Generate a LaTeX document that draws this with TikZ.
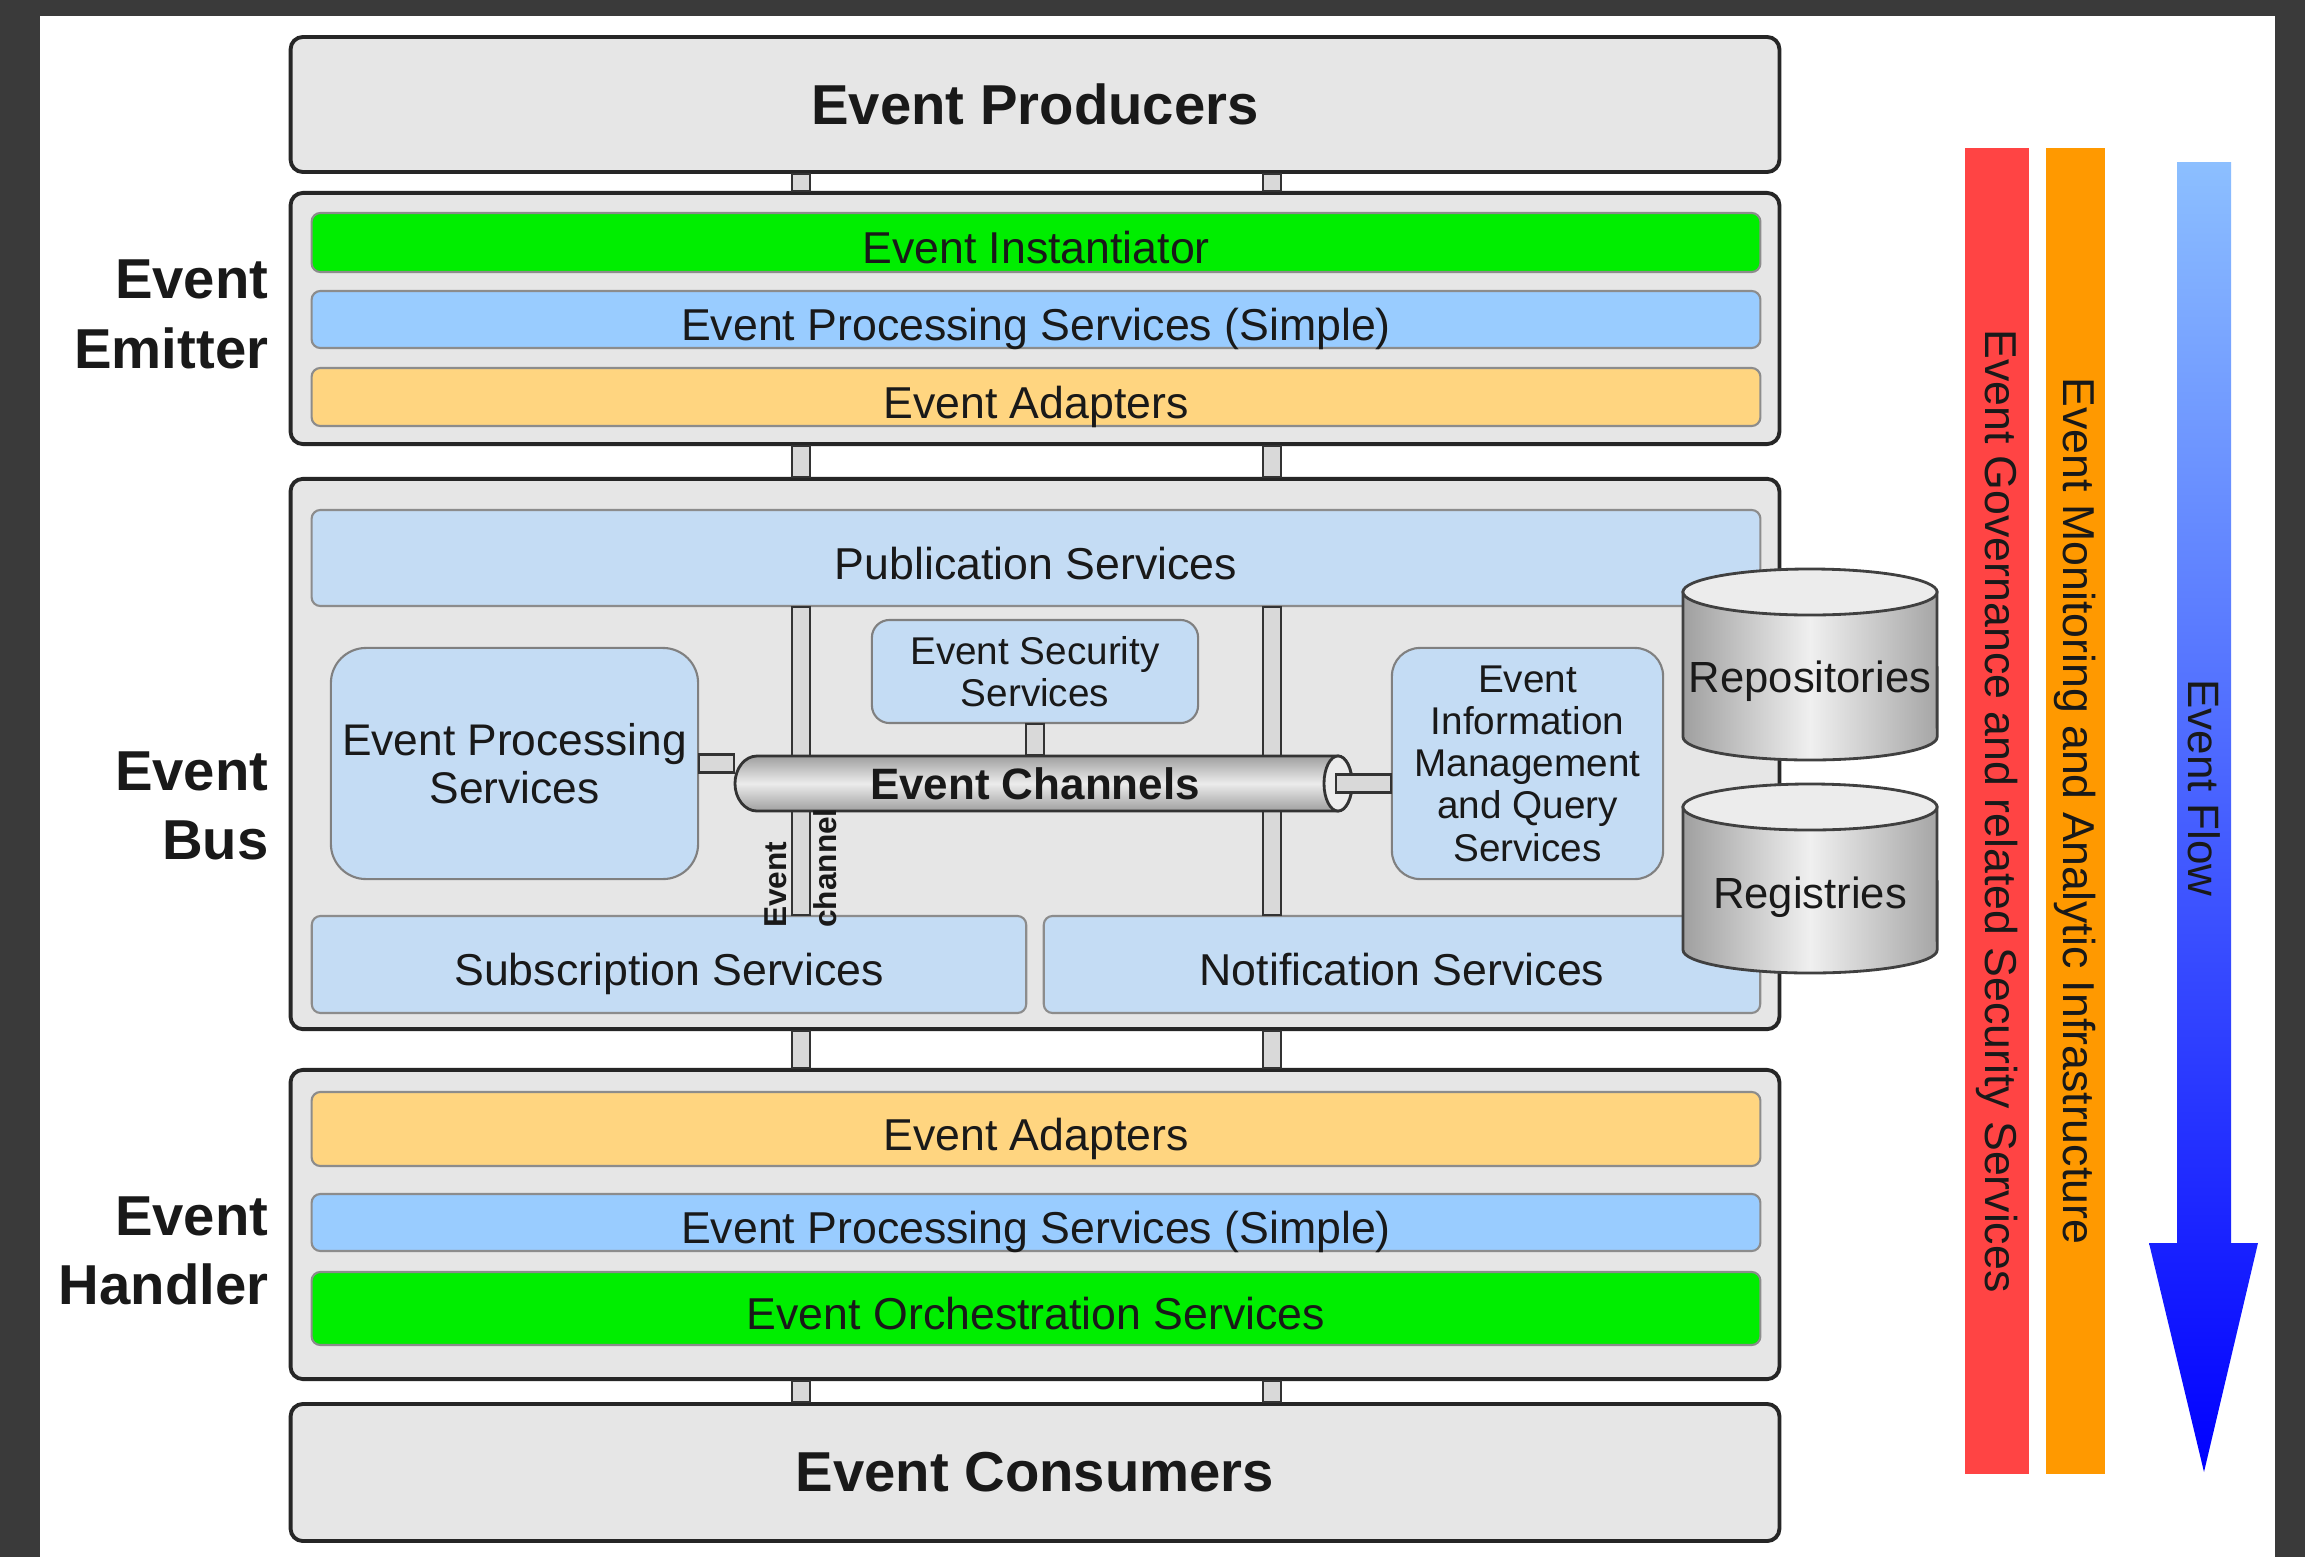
\documentclass[tikz,border=0pt]{standalone}
\usepackage{fontspec}
\setmainfont{Liberation Sans}
\usetikzlibrary{arrows,calc}

\definecolor{framegray}{HTML}{3A3A3A}
\definecolor{layergray}{HTML}{E6E6E6}
\definecolor{instgreen}{HTML}{00EE00}
\definecolor{procblue}{HTML}{99CCFF}
\definecolor{adaptorange}{HTML}{FFD580}
\definecolor{busblue}{HTML}{C4DCF4}
\definecolor{govred}{HTML}{FF4444}
\definecolor{monorange}{HTML}{FF9900}
\definecolor{flowlight}{HTML}{8CBFFF}
\definecolor{flowdark}{HTML}{0000FF}

\tikzset{
  layerbox/.style={draw=black!85, line width=1.1pt, fill=layergray, rounded corners=3.5pt,
    minimum width=14.88cm, inner sep=0pt, text=black!90},
  barbox/.style={draw=black!45, line width=0.6pt, rounded corners=2.5pt, minimum width=14.48cm,
    inner sep=0pt, text=black!90, text height=12pt, text depth=0pt, font=\fontsize{12.7}{14}\selectfont},
  innerbox/.style={draw=black!50, line width=0.6pt, fill=busblue, inner sep=0pt, align=center, text=black!90},
  pipebox/.style={draw=black!80, line width=0.7pt, fill=gray!30},
  heading/.style={font=\fontsize{16}{19.8}\selectfont\bfseries, text=black!90},
  sidelabel/.style={heading, anchor=east, align=right, inner sep=0pt},
  stripe/.style={rotate=-90, minimum width=13.26cm, inner sep=0pt, text=black!90,
    font=\fontsize{12.7}{14}\selectfont}
}

\begin{document}
\begin{tikzpicture}[x=0.01cm,y=-0.01cm]
\useasboundingbox (0,0) rectangle (2305,1557);
\fill[framegray] (0,0) rectangle (2305,1557);
\fill[white] (40,16) rectangle (2275,1557);

\node[layerbox, heading, minimum height=1.35cm] (producers) at (1035,104.5) {Event Producers};
\node[layerbox, minimum height=2.51cm] (emitter) at (1035,318.5) {};
\node[layerbox, minimum height=5.5cm] (bus) at (1035,754) {};
\node[layerbox, minimum height=3.09cm] (handler) at (1035,1224.5) {};
\node[layerbox, heading, minimum height=1.37cm] (consumers) at (1035,1472.5) {Event Consumers};

\coordinate (lp) at (801,0);
\coordinate (rp) at (1272,0);
\foreach \a/\b in {producers/emitter,emitter/bus,bus/handler,handler/consumers}
  \foreach \p in {lp,rp}
    \draw[pipebox] ([xshift=-0.09cm]\p |- \a.south) rectangle ([xshift=0.09cm]\p |- \b.north);

\node[sidelabel] (emitterlabel) at (269,314.5) {Event\\Emitter};
\node[sidelabel] (buslabel) at (269,806) {Event\\Bus};
\node[sidelabel] (handlerlabel) at (269,1251) {Event\\Handler};

\node[barbox, fill=instgreen, minimum height=0.59cm] (instantiator) at (1036,242.5) {Event Instantiator};
\node[barbox, fill=procblue, minimum height=0.57cm] (emitproc) at (1036,319.5) {Event Processing Services (Simple)};
\node[barbox, fill=adaptorange, minimum height=0.58cm] (emitadapt) at (1036,397) {Event Adapters};

\node[barbox, fill=adaptorange, minimum height=0.74cm] (handadapt) at (1036,1129) {Event Adapters};
\node[barbox, fill=procblue, minimum height=0.57cm] (handproc) at (1036,1222.5) {Event Processing Services (Simple)};
\node[barbox, fill=instgreen, minimum height=0.73cm] (orchestration) at (1036,1308.5) {Event Orchestration Services};

\node[barbox, fill=busblue, minimum height=0.96cm] (publication) at (1036,558) {Publication Services};
\node[barbox, fill=busblue, minimum width=7.14cm, minimum height=0.97cm] (subscription) at (669,964.5) {Subscription Services};
\node[barbox, fill=busblue, minimum width=7.16cm, minimum height=0.97cm] (notification) at (1402,964.5) {Notification Services};
\draw[pipebox] ([xshift=-0.09cm]lp |- publication.south) rectangle ([xshift=0.09cm]lp |- subscription.north);
\draw[pipebox] ([xshift=-0.09cm]rp |- publication.south) rectangle ([xshift=0.09cm]rp |- notification.north);

\node[innerbox, rounded corners=10pt, minimum width=3.67cm, minimum height=2.31cm,
  font=\fontsize{12.6}{13.8}\selectfont] (procsvc) at (514.5,763.5) {Event Processing\\Services};
\node[innerbox, rounded corners=5pt, minimum width=3.26cm, minimum height=1.03cm,
  font=\fontsize{11}{12}\selectfont] (security) at (1035,671.5) {Event Security\\Services};
\node[innerbox, rounded corners=8pt, minimum width=2.71cm, minimum height=2.31cm,
  font=\fontsize{11}{12}\selectfont] (eiminfo) at (1527.5,763.5) {Event\\Information\\Management\\and Query\\Services};

\shadedraw[top color=gray!75, bottom color=gray!75, middle color=gray!15, draw=black!80, line width=0.8pt]
  (757,756) arc (90:270:0.22cm and 0.275cm) -- (1338,811) arc (-90:90:0.14cm and 0.275cm) -- cycle;
\draw[fill=gray!15, draw=black!80, line width=0.8pt] (1338,783.5) ellipse (0.14cm and 0.275cm);
\node[minimum width=6cm, minimum height=0.55cm, inner sep=0pt, text=black!90,
  font=\fontsize{12.5}{14}\selectfont\bfseries] (channels) at (1035,783.5) {Event Channels};
\draw[pipebox] ([yshift=0.09cm]procsvc.east) rectangle ([yshift=-0.09cm]procsvc.east -| channels.west);
\draw[pipebox] ([yshift=0.09cm]channels.east) rectangle ([yshift=-0.09cm]channels.east -| eiminfo.west);
\draw[pipebox] ([xshift=-0.09cm]security.south) rectangle ([xshift=0.09cm]security.south |- channels.north);
\node[rotate=90, align=left, inner sep=0pt, text=black!90,
  font=\fontsize{9}{14.2}\selectfont\bfseries] (chanlabel) at (801,868) {Event\\channel};

\shadedraw[left color=gray!75, right color=gray!70, middle color=gray!12, draw=black!75, line width=0.8pt]
  (1683,592) -- (1683,737) arc (180:360:1.27cm and 0.23cm) -- (1937,592) -- cycle;
\draw[fill=gray!15, draw=black!75, line width=0.8pt] (1810,592) ellipse (1.27cm and 0.23cm);
\node[font=\fontsize{12.4}{14}\selectfont, text=black!90] (repositories) at (1810,681) {Repositories};

\shadedraw[left color=gray!75, right color=gray!70, middle color=gray!12, draw=black!75, line width=0.8pt]
  (1683,807) -- (1683,950) arc (180:360:1.27cm and 0.23cm) -- (1937,807) -- cycle;
\draw[fill=gray!15, draw=black!75, line width=0.8pt] (1810,807) ellipse (1.27cm and 0.23cm);
\node[font=\fontsize{12.4}{14}\selectfont, text=black!90] (registries) at (1810,897) {Registries};

\node[stripe, fill=govred, minimum height=0.64cm] (governance) at (1997,811) {Event Governance and related Security Services};
\node[stripe, fill=monorange, minimum height=0.59cm] (monitoring) at (2075.5,811) {Event Monitoring and Analytic Infrastructure};

\shade[top color=flowlight, bottom color=flowdark]
  (2177,162) -- (2231,162) -- (2231,1243) -- (2258,1243) -- (2204,1472) -- (2149,1243) -- (2177,1243) -- cycle;
\node[rotate=-90, font=\fontsize{12.5}{14}\selectfont, text=black!90] (flowlabel) at (2204,788) {Event Flow};
\end{tikzpicture}
\end{document}
